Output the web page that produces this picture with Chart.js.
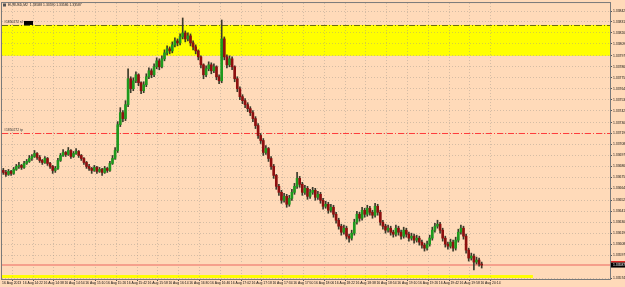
<!DOCTYPE html>
<html><head><meta charset="utf-8">
<script src="https://cdn.jsdelivr.net/npm/chart.js@4/dist/chart.umd.min.js"></script>
<style>html,body{margin:0;padding:0;background:#FFDAB9;overflow:hidden}canvas{display:block}</style>
</head><body><canvas id="c" width="625" height="287"></canvas>
<script>
const chartTitle = "EURUSD,M2  1.33588 1.33590 1.33586 1.33587";
const timeLabels = ["16 Aug 2013","16 Aug 14:22","16 Aug 14:38","16 Aug 14:54","16 Aug 15:10","16 Aug 15:26","16 Aug 15:42","16 Aug 15:58","16 Aug 16:14","16 Aug 16:30","16 Aug 16:46","16 Aug 17:02","16 Aug 17:18","16 Aug 17:34","16 Aug 17:50","16 Aug 18:06","16 Aug 18:22","16 Aug 18:38","16 Aug 18:54","16 Aug 19:10","16 Aug 19:26","16 Aug 19:42","16 Aug 19:58","16 Aug 20:14"];
const priceTicks = [1.33842,1.33831,1.33820,1.33809,1.33797,1.33786,1.33775,1.33764,1.33753,1.33742,1.33730,1.33719,1.33708,1.33697,1.33686,1.33675,1.33664,1.33652,1.33641,1.33630,1.33619,1.33608,1.33597,1.33574];

const opens = [1.33682,1.33680,1.33678,1.33681,1.33679,1.33683,1.33686,1.33687,1.33685,1.33689,1.33691,1.33694,1.33696,1.33699,1.33695,1.33692,1.33690,1.33694,1.33689,1.33686,1.33682,1.33684,1.33692,1.33697,1.33700,1.33698,1.33702,1.33696,1.33699,1.33701,1.33697,1.33694,1.33690,1.33686,1.33684,1.33682,1.33685,1.33681,1.33683,1.33680,1.33684,1.33682,1.33689,1.33694,1.33702,1.33728,1.33740,1.33734,1.33748,1.33774,1.33764,1.33772,1.33778,1.33770,1.33762,1.33768,1.33776,1.33782,1.33778,1.33786,1.33792,1.33786,1.33794,1.33800,1.33804,1.33802,1.33808,1.33812,1.33810,1.33816,1.33820,1.33814,1.33817,1.33810,1.33806,1.33802,1.33796,1.33788,1.33778,1.33784,1.33788,1.33782,1.33786,1.33776,1.33772,1.33814,1.33796,1.33788,1.33794,1.33786,1.33774,1.33764,1.33756,1.33752,1.33748,1.33744,1.33740,1.33734,1.33727,1.33717,1.33712,1.33700,1.33704,1.33694,1.33686,1.33677,1.33666,1.33660,1.33652,1.33656,1.33648,1.33654,1.33660,1.33666,1.33674,1.33668,1.33660,1.33664,1.33656,1.33660,1.33662,1.33655,1.33658,1.33652,1.33646,1.33648,1.33642,1.33645,1.33638,1.33632,1.33626,1.33620,1.33624,1.33616,1.33614,1.33619,1.33630,1.33638,1.33634,1.33642,1.33638,1.33644,1.33640,1.33637,1.33646,1.33640,1.33630,1.33626,1.33622,1.33624,1.33620,1.33618,1.33624,1.33620,1.33616,1.33622,1.33618,1.33614,1.33616,1.33612,1.33614,1.33610,1.33607,1.33604,1.33608,1.33614,1.33622,1.33626,1.33628,1.33622,1.33614,1.33608,1.33606,1.33610,1.33604,1.33612,1.33620,1.33624,1.33616,1.33602,1.33594,1.33596,1.33590,1.33592,1.33588];
const highs = [1.33684,1.33682,1.33683,1.33682,1.33685,1.33688,1.33690,1.33688,1.33691,1.33693,1.33697,1.33698,1.33702,1.33700,1.33697,1.33693,1.33696,1.33695,1.33690,1.33687,1.33686,1.33694,1.33699,1.33703,1.33701,1.33705,1.33703,1.33701,1.33704,1.33702,1.33698,1.33695,1.33691,1.33688,1.33685,1.33687,1.33686,1.33685,1.33684,1.33686,1.33685,1.33691,1.33697,1.33705,1.33731,1.33745,1.33742,1.33752,1.33784,1.33776,1.33775,1.33781,1.33779,1.33771,1.33771,1.33779,1.33785,1.33784,1.33789,1.33795,1.33794,1.33797,1.33803,1.33807,1.33806,1.33811,1.33815,1.33814,1.33819,1.33835,1.33822,1.33820,1.33819,1.33812,1.33808,1.33803,1.33797,1.33789,1.33787,1.33791,1.33790,1.33789,1.33787,1.33778,1.33833,1.33816,1.33798,1.33797,1.33796,1.33787,1.33776,1.33766,1.33758,1.33754,1.33750,1.33746,1.33742,1.33736,1.33729,1.33719,1.33714,1.33707,1.33705,1.33696,1.33688,1.33678,1.33668,1.33662,1.33659,1.33658,1.33657,1.33663,1.33669,1.33680,1.33676,1.33670,1.33667,1.33666,1.33663,1.33665,1.33664,1.33661,1.33660,1.33654,1.33651,1.33650,1.33648,1.33647,1.33640,1.33634,1.33628,1.33627,1.33626,1.33618,1.33622,1.33633,1.33641,1.33640,1.33645,1.33644,1.33647,1.33646,1.33642,1.33649,1.33648,1.33642,1.33632,1.33628,1.33627,1.33626,1.33622,1.33627,1.33626,1.33622,1.33625,1.33624,1.33620,1.33619,1.33618,1.33617,1.33616,1.33612,1.33609,1.33611,1.33617,1.33625,1.33629,1.33632,1.33630,1.33624,1.33616,1.33610,1.33613,1.33612,1.33615,1.33623,1.33627,1.33626,1.33618,1.33604,1.33599,1.33598,1.33595,1.33594,1.33590];
const lows = [1.33678,1.33676,1.33677,1.33677,1.33678,1.33682,1.33684,1.33683,1.33684,1.33688,1.33690,1.33692,1.33695,1.33693,1.33690,1.33688,1.33689,1.33687,1.33684,1.33679,1.33680,1.33683,1.33691,1.33696,1.33696,1.33697,1.33694,1.33695,1.33698,1.33695,1.33692,1.33688,1.33684,1.33682,1.33679,1.33681,1.33679,1.33680,1.33677,1.33679,1.33680,1.33681,1.33688,1.33693,1.33700,1.33726,1.33731,1.33732,1.33746,1.33760,1.33762,1.33770,1.33767,1.33759,1.33760,1.33766,1.33774,1.33775,1.33776,1.33784,1.33783,1.33785,1.33792,1.33798,1.33799,1.33800,1.33806,1.33807,1.33808,1.33814,1.33811,1.33812,1.33807,1.33803,1.33799,1.33793,1.33785,1.33774,1.33776,1.33782,1.33779,1.33780,1.33773,1.33769,1.33770,1.33793,1.33785,1.33786,1.33783,1.33771,1.33761,1.33753,1.33749,1.33745,1.33741,1.33737,1.33731,1.33724,1.33714,1.33709,1.33697,1.33698,1.33691,1.33683,1.33674,1.33663,1.33657,1.33649,1.33650,1.33645,1.33646,1.33652,1.33658,1.33664,1.33665,1.33657,1.33658,1.33653,1.33654,1.33658,1.33652,1.33653,1.33649,1.33643,1.33644,1.33639,1.33640,1.33635,1.33629,1.33623,1.33617,1.33618,1.33613,1.33610,1.33612,1.33617,1.33628,1.33631,1.33632,1.33635,1.33636,1.33637,1.33634,1.33635,1.33637,1.33627,1.33623,1.33619,1.33620,1.33617,1.33615,1.33616,1.33617,1.33613,1.33614,1.33615,1.33611,1.33612,1.33609,1.33610,1.33607,1.33604,1.33601,1.33602,1.33606,1.33612,1.33620,1.33624,1.33619,1.33611,1.33605,1.33603,1.33604,1.33601,1.33602,1.33610,1.33618,1.33613,1.33599,1.33591,1.33592,1.33582,1.33588,1.33586,1.33584];
const closes = [1.33680,1.33678,1.33681,1.33679,1.33683,1.33686,1.33687,1.33685,1.33689,1.33691,1.33694,1.33696,1.33699,1.33695,1.33692,1.33690,1.33694,1.33689,1.33686,1.33682,1.33684,1.33692,1.33697,1.33700,1.33698,1.33702,1.33696,1.33699,1.33701,1.33697,1.33694,1.33690,1.33686,1.33684,1.33682,1.33685,1.33681,1.33683,1.33680,1.33684,1.33682,1.33689,1.33694,1.33702,1.33728,1.33740,1.33734,1.33748,1.33774,1.33764,1.33772,1.33778,1.33770,1.33762,1.33768,1.33776,1.33782,1.33778,1.33786,1.33792,1.33786,1.33794,1.33800,1.33804,1.33802,1.33808,1.33812,1.33810,1.33816,1.33820,1.33814,1.33817,1.33810,1.33806,1.33802,1.33796,1.33788,1.33778,1.33784,1.33788,1.33782,1.33786,1.33776,1.33772,1.33814,1.33796,1.33788,1.33794,1.33786,1.33774,1.33764,1.33756,1.33752,1.33748,1.33744,1.33740,1.33734,1.33727,1.33717,1.33712,1.33700,1.33704,1.33694,1.33686,1.33677,1.33666,1.33660,1.33652,1.33656,1.33648,1.33654,1.33660,1.33666,1.33674,1.33668,1.33660,1.33664,1.33656,1.33660,1.33662,1.33655,1.33658,1.33652,1.33646,1.33648,1.33642,1.33645,1.33638,1.33632,1.33626,1.33620,1.33624,1.33616,1.33614,1.33619,1.33630,1.33638,1.33634,1.33642,1.33638,1.33644,1.33640,1.33637,1.33646,1.33640,1.33630,1.33626,1.33622,1.33624,1.33620,1.33618,1.33624,1.33620,1.33616,1.33622,1.33618,1.33614,1.33616,1.33612,1.33614,1.33610,1.33607,1.33604,1.33608,1.33614,1.33622,1.33626,1.33628,1.33622,1.33614,1.33608,1.33606,1.33610,1.33604,1.33612,1.33620,1.33624,1.33616,1.33602,1.33594,1.33596,1.33590,1.33592,1.33588,1.33587];

const slZone = [1.33797, 1.33828];     // yellow zone (bottom, top)
const slLabel = "#1850272 sl";
const tpLevel = 1.33720;
const tpLabel = "#1850272 tp";
const bidLevel = 1.33587;
const lowZone = [1.33574, 1.33577];
const lowZoneEndBar = 203.7;
const priceMin = 1.33573, priceMax = 1.33850;

const bodies = opens.map((o,i)=>({x:i, y:[o, closes[i]]}));
const wicks = lows.map((l,i)=>({x:i, y:[l, highs[i]]}));
const bodyColors = opens.map((o,i)=> closes[i] >= o ? '#1e9a1e' : '#8e0f0f');

const FONT = {family:'Liberation Sans', size:3.4};
const GRID = 'rgba(160,150,140,0.45)';

const overlay = {
  id:'overlay',
  beforeDraw(chart){
    const {ctx, chartArea:a, scales:{x,y}} = chart;
    ctx.save();
    const yt = y.getPixelForValue(slZone[1]), yb = y.getPixelForValue(slZone[0]);
    ctx.fillStyle = '#ffff00';
    ctx.fillRect(a.left, yt, a.right - a.left, yb - yt);
    const lt = y.getPixelForValue(lowZone[1]), lb = y.getPixelForValue(lowZone[0]);
    ctx.fillRect(a.left, lt, x.getPixelForValue(lowZoneEndBar) - a.left, lb - lt);
    ctx.restore();
  },
  beforeDatasetsDraw(chart){
    const {ctx, chartArea:a, scales:{y}} = chart;
    ctx.save();
    ctx.lineWidth = 1;
    ctx.setLineDash([6,2,1,2]);
    let py = Math.round(y.getPixelForValue(slZone[1])) + 0.5;
    ctx.strokeStyle = '#6d6d10';
    ctx.beginPath(); ctx.moveTo(a.left, py); ctx.lineTo(a.right, py); ctx.stroke();
    py = Math.round(y.getPixelForValue(tpLevel)) + 0.5;
    ctx.strokeStyle = '#ff3c3c';
    ctx.beginPath(); ctx.moveTo(a.left, py); ctx.lineTo(a.right, py); ctx.stroke();
    ctx.setLineDash([]);
    py = y.getPixelForValue(bidLevel);
    ctx.strokeStyle = '#f5a08c'; ctx.lineWidth = 2;
    ctx.beginPath(); ctx.moveTo(a.left, py); ctx.lineTo(a.right, py); ctx.stroke();
    ctx.restore();
  },
  afterDraw(chart){
    const {ctx, chartArea:a, scales:{y}} = chart;
    ctx.save();
    ctx.strokeStyle = '#7a7a7a'; ctx.lineWidth = 1;
    ctx.strokeRect(a.left - 0.5, a.top - 0.5, a.right - a.left + 1, a.bottom - a.top + 1);
    ctx.font = '3.4px "Liberation Sans"';
    ctx.fillStyle = '#222'; ctx.textBaseline = 'middle';
    ctx.fillText(chartTitle, 8, 5);
    ctx.fillStyle = '#555'; ctx.fillRect(3, 3.5, 3, 3);
    let py = y.getPixelForValue(slZone[1]);
    ctx.fillStyle = '#222';
    ctx.fillText(slLabel, 4, py - 2.5);
    ctx.fillStyle = '#000'; ctx.fillRect(24, py - 4, 9, 4);
    py = y.getPixelForValue(tpLevel);
    ctx.fillStyle = '#333';
    ctx.fillText(tpLabel, 4, py - 2.5);
    py = y.getPixelForValue(closes[closes.length-1]);
    ctx.fillStyle = '#e02020'; ctx.fillRect(a.right + 1, py - 4, 625 - a.right, 1.5);
    ctx.fillStyle = '#000'; ctx.fillRect(a.right + 1, py - 2.5, 625 - a.right, 5);
    ctx.fillStyle = '#fff'; ctx.fillText(closes[closes.length-1].toFixed(5), a.right + 3, py);
    ctx.restore();
  }
};

new Chart(document.getElementById('c'), {
  data: {
    datasets: [
      {type:'bar', data: wicks, backgroundColor:'#3a3a2a', barThickness:1, grouped:false, order:2, borderWidth:0},
      {type:'bar', data: bodies, backgroundColor: bodyColors, barThickness:2, grouped:false, order:1, borderWidth:0, minBarLength:1}
    ]
  },
  options: {
    responsive:false, animation:false, devicePixelRatio:1,
    layout:{padding:{left:2, top:2, right:0, bottom:0}},
    plugins:{legend:{display:false}, tooltip:{enabled:false}},
    scales:{
      x:{
        type:'linear', position:'bottom', min:-0.5, max:233.35, offset:false,
        afterBuildTicks: s => { s.ticks = timeLabels.map((_,k)=>({value: k*8 - 0.5})); },
        afterFit: s => { s.height = 8; },
        ticks:{autoSkip:false, maxRotation:0, minRotation:0, align:'start', padding:0.5, font:FONT, color:'#111',
               callback:(v,i)=>timeLabels[i]},
        grid:{color:GRID, lineWidth:1, tickLength:2, tickColor:'#555'},
        border:{display:true, color:'#555', dash:[1,2]}
      },
      y:{
        type:'linear', position:'right', min:priceMin, max:priceMax,
        afterBuildTicks: s => { s.ticks = priceTicks.map(v=>({value:v})); },
        afterFit: s => { s.width = 15; },
        ticks:{autoSkip:false, padding:1, font:FONT, color:'#111', callback:v=>v.toFixed(5)},
        grid:{color:GRID, lineWidth:1, tickLength:2, tickColor:'#555'},
        border:{display:true, color:'#555', dash:[1,2]}
      }
    }
  },
  plugins:[overlay]
});
</script>
</body></html>
